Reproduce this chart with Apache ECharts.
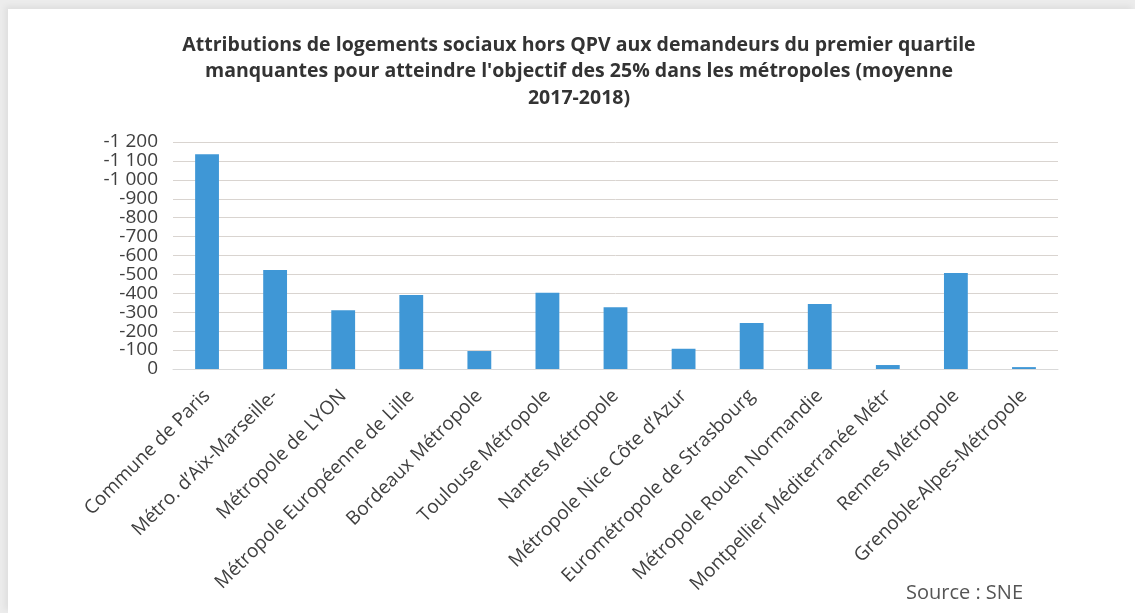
<!DOCTYPE html>
<html>
<head>
<meta charset="utf-8">
<script src="https://cdn.jsdelivr.net/npm/echarts@6/dist/echarts.min.js"></script>
<style>
  html, body { margin: 0; padding: 0; background: #fff; }
  #wrap { position: absolute; left: 0; top: 0; width: 1135px; height: 613px; overflow: hidden; background: #ececec; }
  #attrib-chart { position: absolute; left: 8px; top: 9px; width: 1127px; height: 604px; background: #fff;
    box-shadow: -3px -3px 6px rgba(0,0,0,0.06); }
</style>
</head>
<body>
<div id="wrap"><div id="attrib-chart"></div></div>
<script>
// categories (métropoles)
const metropoles = [
  'Commune de Paris',
  'Métro. d\u2019Aix-Marseille-',
  'Métropole de LYON',
  'Métropole Européenne de Lille',
  'Bordeaux Métropole',
  'Toulouse Métropole',
  'Nantes Métropole',
  'Métropole Nice Côte d\u2019Azur',
  'Eurométropole de Strasbourg',
  'Métropole Rouen Normandie',
  'Montpellier Méditerranée Métr',
  'Rennes Métropole',
  'Grenoble-Alpes-Métropole'
];
// attributions manquantes (valeurs négatives)
const manquantes = [-1135, -523, -311, -391, -95, -403, -327, -107, -243, -343, -21, -508, -10];

const titre = 'Attributions de logements sociaux hors QPV aux demandeurs du premier quartile\nmanquantes pour atteindre l\'objectif des 25% dans les métropoles (moyenne\n2017-2018)';

const fmt = (v) => {
  const s = String(Math.abs(v)).replace(/\B(?=(\d{3})+(?!\d))/g, ' ');
  return v < 0 ? '-' + s : s;
};

const mychart = echarts.init(document.getElementById('attrib-chart'));
const option = {
  animation: false,
  title: {
    text: titre,
    left: 566,
    textAlign: 'center',
    top: 18,
    textStyle: { fontFamily: 'Open Sans', fontWeight: 'bold', fontSize: 19.5, color: '#333', lineHeight: 26.5 }
  },
  graphic: [{
    type: 'text', right: 112, bottom: 10,
    style: { text: 'Source : SNE', font: '20px "Open Sans"', fill: '#555' }
  }],
  grid: { left: 165, right: 77, top: 133, bottom: 244 },
  xAxis: {
    type: 'category',
    data: metropoles,
    axisLine: { lineStyle: { color: '#d9d9d9' } },
    axisTick: { show: false },
    axisLabel: { rotate: 45, interval: 0, fontFamily: 'Open Sans', fontSize: 19, color: '#404040', margin: 24 }
  },
  yAxis: {
    type: 'value',
    inverse: true,
    min: -1200, max: 0, interval: 100,
    axisLine: { show: false },
    axisTick: { show: false },
    splitLine: { lineStyle: { color: '#d9d4d0', width: 1 } },
    axisLabel: { formatter: fmt, fontFamily: 'Open Sans', fontSize: 19, color: '#404040', margin: 15 }
  },
  series: [{
    type: 'bar',
    data: manquantes,
    barWidth: '35%',
    itemStyle: { color: '#3f97d6' }
  }]
};
mychart.setOption(option);
</script>
</body>
</html>
